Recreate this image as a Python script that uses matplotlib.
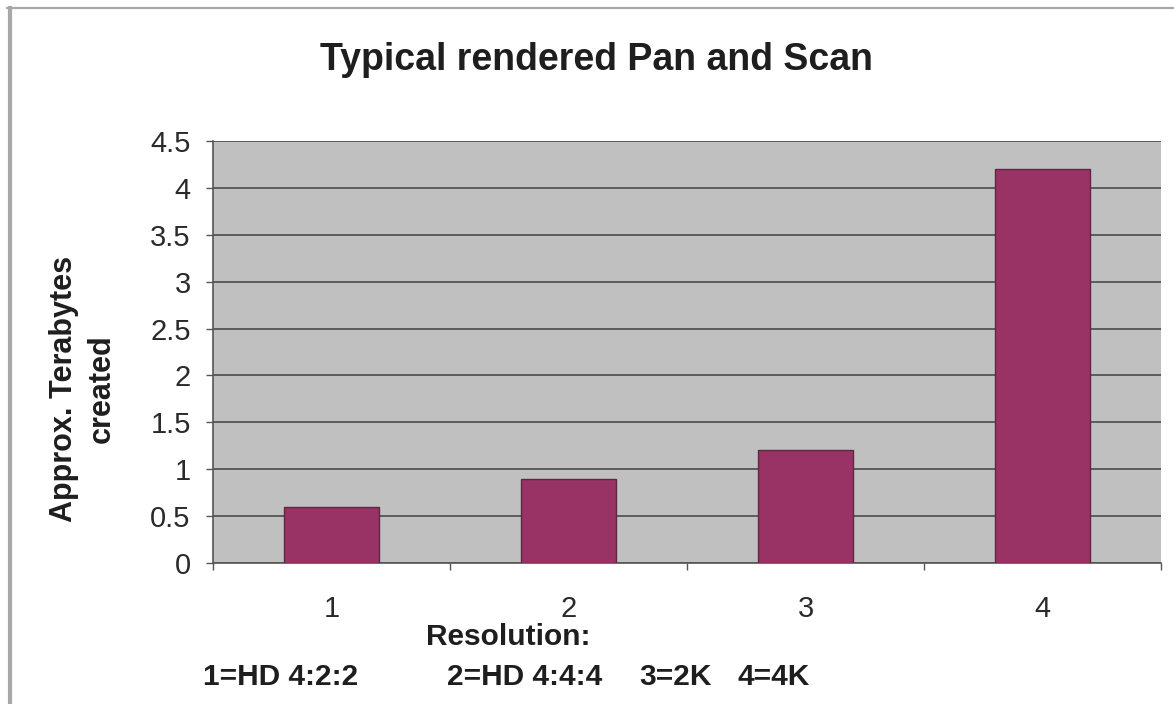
import numpy as np
import matplotlib
matplotlib.use('Agg')
import matplotlib.pyplot as plt
from matplotlib.lines import Line2D

# ---------------------------------- data ----------------------------------
categories = ['1', '2', '3', '4']
terabytes = [0.6, 0.9, 1.2, 4.2]
yticks = [0, 0.5, 1, 1.5, 2, 2.5, 3, 3.5, 4, 4.5]
ytick_labels = ['0', '0.5', '1', '1.5', '2', '2.5', '3', '3.5', '4', '4.5']
legend_parts = ['1=HD 4:2:2', '2=HD 4:4:4', '3=2K', '4=4K']

plt.rcParams['font.family'] = ['Liberation Sans', 'DejaVu Sans']

fig = plt.figure(figsize=(11.74, 7.04), dpi=100)
fig.patch.set_facecolor('white')
ax = fig.add_axes([0.1814, 0.2003, 0.8076, 0.5994])

x = np.arange(len(categories))
ax.set_facecolor('#c0c0c0')
ax.set_axisbelow(True)
ax.yaxis.grid(True, color='#5c5c5c', linewidth=1.4)
ax.bar(x, terabytes, width=0.4, color='#993366', edgecolor='#5e2743', linewidth=1.0, zorder=3)

ax.set_xlim(-0.5, len(categories) - 0.5)
ax.set_ylim(0, 4.5)
ax.set_yticks(yticks)
ax.set_yticklabels(ytick_labels)
ax.set_xticks(x)
ax.set_xticklabels(categories)
ax.set_xticks(np.arange(-0.5, len(categories), 1.0), minor=True)

for s in ['top', 'right']:
    ax.spines[s].set_visible(False)
for s in ['left', 'bottom']:
    ax.spines[s].set_color('#555555')
    ax.spines[s].set_linewidth(1.2)

ax.tick_params(axis='y', direction='out', length=5, width=1.0, color='#555555',
               pad=11, labelsize=21, labelcolor='#2a2a2a')
ax.tick_params(axis='x', which='major', length=0, pad=23, labelsize=21, labelcolor='#2a2a2a')
ax.tick_params(axis='x', which='minor', direction='out', length=5, width=1.0, color='#555555')

# titles / labels
fig.text(0.5077, 0.915, 'Typical rendered Pan and Scan', ha='center', va='center',
         fontsize=27, fontweight='bold', color='#1e1e1e')
fig.text(0.0707, 0.4474, 'Approx. Terabytes\ncreated', rotation=90, ha='center', va='center',
         multialignment='center', fontsize=22, fontweight='bold', color='#1e1e1e', linespacing=1.35)
fig.text(0.4327, 0.0952, 'Resolution:', ha='center', va='center',
         fontsize=21.5, fontweight='bold', color='#1e1e1e')
for xpos, part in zip([0.1729, 0.3807, 0.5443, 0.6286], legend_parts):
    fig.text(xpos, 0.0384, part, ha='left', va='center', fontsize=21.5,
             fontweight='bold', color='#1e1e1e')

# outer frame (top and left)
fig.add_artist(Line2D([0.006, 1.0], [0.9886, 0.9886], transform=fig.transFigure,
                      color='#a8a8a8', linewidth=1.6))
fig.add_artist(Line2D([0.0081, 0.0081], [0.0, 0.9886], transform=fig.transFigure,
                      color='#a8a8a8', linewidth=3.0))

fig.savefig('out.png', dpi=100)
